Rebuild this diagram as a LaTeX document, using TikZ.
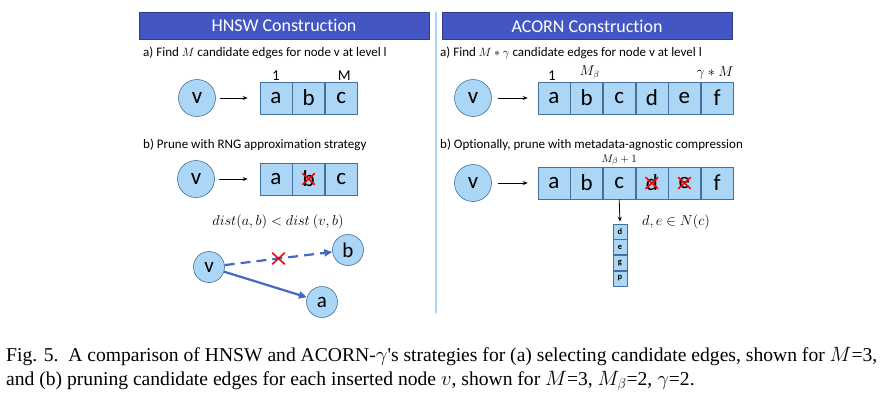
\documentclass[tikz,border=0pt]{standalone}
\usepackage{amsmath}
\usepackage{fontspec}
\setmainfont[Ligatures=NoCommon]{Carlito}
\newfontfamily\capfont{Liberation Serif}
\usepackage{tikz}
\usetikzlibrary{positioning,shapes.misc,arrows.meta}

\definecolor{headblue}{RGB}{68,86,196}
\definecolor{cellblue}{RGB}{171,214,245}
\definecolor{lineblue}{RGB}{65,113,156}
\definecolor{edgeblue}{RGB}{68,104,196}
\definecolor{sepblue}{RGB}{170,210,245}

\begin{document}
\begin{tikzpicture}[x=1pt, y=-1pt]

% Set the overall frame of the figure
\useasboundingbox (0,0) rectangle (888,405);

% Define styles for headers, cells and nodes
\tikzstyle{header} = [rectangle, fill=headblue, draw=headblue!70!black, line width=0.4pt, text=white, minimum width=290pt, minimum height=27pt, inner sep=0pt, font=\fontsize{18}{18}\selectfont]
\tikzstyle{steptext} = [anchor=west, inner sep=0pt, font=\fontsize{13}{13}\selectfont]
\tikzstyle{cell} = [rectangle, fill=cellblue, draw=lineblue, line width=0.6pt, minimum width=32pt, minimum height=32pt, inner sep=0pt, font=\fontsize{23}{23}\selectfont]
\tikzstyle{vnode} = [circle, fill=cellblue, draw=lineblue, line width=0.6pt, minimum size=37pt, inner sep=0pt, font=\fontsize{23}{23}\selectfont]
\tikzstyle{gnode} = [circle, fill=cellblue, draw=lineblue, line width=0.6pt, minimum size=31pt, inner sep=0pt, font=\fontsize{21}{21}\selectfont]
\tikzstyle{tiny} = [rectangle, fill=cellblue, draw=lineblue, line width=0.6pt, minimum width=14pt, minimum height=15pt, inner sep=0pt, font=\fontsize{8.5}{8.5}\selectfont\bfseries]
\tikzstyle{idx} = [inner sep=1pt, font=\fontsize{15}{15}\selectfont]
\tikzstyle{mathlbl} = [inner sep=1pt, font=\fontsize{13.5}{13.5}\selectfont]
\tikzstyle{pointer} = [-{Stealth[length=5pt, width=4pt]}, line width=0.8pt]
\tikzstyle{blueedge} = [-{Triangle[length=8pt, width=7pt]}, draw=edgeblue, line width=2.2pt]
\tikzstyle{xmark} = [cross out, draw=red, line width=1.6pt, minimum width=11pt, minimum height=10pt, inner sep=0pt]

%%%% HNSW side
\node[header] (hnswhead) at (284,25.5) {HNSW Construction};
\node[steptext] (hnswa) at (143,53) {a) Find $M$ candidate edges for node v at level l};

\node[vnode] (hv1) at (197,98) {v};
\node[cell] (ha1) at (276,98) {a};
\node[cell, right=0pt of ha1] (hb1) {b};
\node[cell, right=0pt of hb1] (hc1) {c};
\node[idx, above=0pt of ha1] (hone) {1};
\node[idx, above=0pt of hc1, xshift=3pt] (hm) {M};
\draw[pointer, shorten <=4pt, shorten >=12pt] (hv1) -- (ha1);

\node[steptext] (hnswb) at (143,145) {b) Prune with RNG approximation strategy};

\node[vnode] (hv2) at (196,179) {v};
\node[cell] (ha2) at (276,179) {a};
\node[cell, right=0pt of ha2] (hb2) {b};
\node[cell, right=0pt of hb2] (hc2) {c};
\node[xmark] (hx2) at (hb2) {};
\draw[pointer, shorten <=4pt, shorten >=12pt] (hv2) -- (ha2);

% RNG rule
\node[mathlbl] (rule) at (278,222) {$dist(a,b) < dist\ (v,b)$};
\node[gnode] (gv) at (209,267) {v};
\node[gnode] (gb) at (348,250) {b};
\node[gnode] (ga) at (322,302) {a};
\draw[blueedge, dashed, dash pattern=on 10pt off 6pt] (gv) -- (gb)
	node[xmark, pos=0.5, solid] (gx) {};
\draw[blueedge] (gv) -- (ga);

%%%% ACORN side
\draw[sepblue, line width=2.5pt] (436,12) -- (436,313);
\node[header] (acornhead) at (587,26) {ACORN Construction};
\node[steptext] (acorna) at (440,53) {a) Find $M*\gamma$ candidate edges for node v at level l};

\node[vnode] (av1) at (473,98) {v};
\node[cell] (aa1) at (554,98) {a};
\foreach \l [remember=\l as \p (initially a)] in {b,c,d,e,f}
	\node[cell, right=0pt of a\p1] (a\l1) {\l};
\node[idx, above=0pt of aa1, xshift=-2pt] (aone) {1};
\node[mathlbl, above=1pt of ab1, xshift=3pt] (amb) {$M_\beta$};
\node[mathlbl, above=1pt of af1, xshift=-2pt] (agm) {$\gamma*M$};
\draw[pointer, shorten <=6pt, shorten >=10pt] (av1) -- (aa1);

\node[steptext] (acornb) at (440,145) {b) Optionally, prune with metadata-agnostic compression};

\node[vnode] (av2) at (473,183) {v};
\node[cell] (aa2) at (554,183) {a};
\foreach \l [remember=\l as \p (initially a)] in {b,c,d,e,f}
	\node[cell, right=0pt of a\p2] (a\l2) {\l};
\node[mathlbl, above=0pt of ac2, font=\fontsize{11}{11}\selectfont] (amb1) {$M_\beta+1$};
\node[xmark] (adx) at (ad2) {};
\node[xmark] (aex) at (ae2) {};
\draw[pointer, shorten <=6pt, shorten >=10pt] (av2) -- (aa2);

% neighbour list of c
\node[tiny] (nd) at (620,231.5) {d};
\node[tiny, below=0pt of nd] (ne) {e};
\node[tiny, below=0pt of ne] (ng) {g};
\node[tiny, below=0pt of ng] (np) {p};
\draw[pointer, shorten >=2pt] (ac2.south) -- (nd.north);
\node[mathlbl] (nrule) at (676,222) {$d,e\in N(c)$};

%%%% Caption
\node[anchor=west, inner sep=0pt, font=\capfont\fontsize{19.6}{19.6}\selectfont] (cap1) at (6,357)
	{Fig. 5.\ \ A comparison of HNSW and ACORN-$\gamma$'s strategies for (a) selecting candidate edges, shown for $M$=3,};
\node[anchor=west, inner sep=0pt, font=\capfont\fontsize{19.6}{19.6}\selectfont] (cap2) at (6,381)
	{and (b) pruning candidate edges for each inserted node $v$, shown for $M$=3, $M_\beta$=2, $\gamma$=2.};

\end{tikzpicture}
\end{document}
